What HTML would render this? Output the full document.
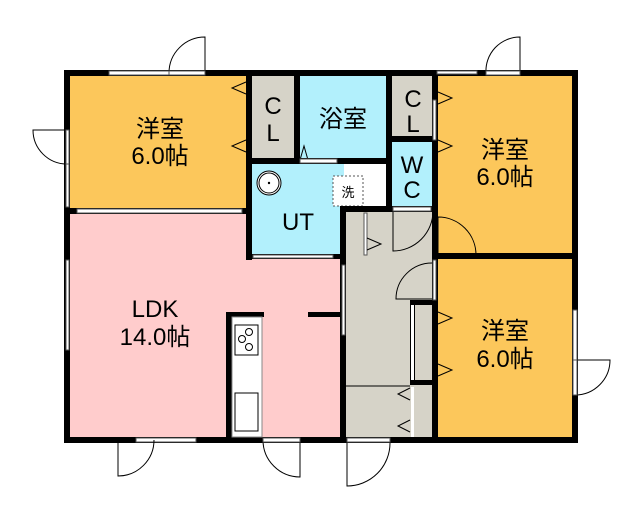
<!DOCTYPE html>
<html><head><meta charset="utf-8"><style>
html,body{margin:0;padding:0;background:#fff;}
svg{display:block;}
text{font-family:"Liberation Sans","Noto Sans CJK JP",sans-serif;fill:#000;}
</style></head><body>
<svg width="640" height="512" viewBox="0 0 640 512">
<rect x="67" y="73" width="183" height="140" fill="#FCC75B"/>
<rect x="67" y="211" width="280" height="228" fill="#FFCCCC"/>
<rect x="250" y="73" width="48" height="90" fill="#D6D3C8"/>
<rect x="298" y="73" width="92" height="90" fill="#B2F0FC"/>
<rect x="390" y="73" width="46" height="68" fill="#D6D3C8"/>
<rect x="390" y="141" width="46" height="69" fill="#B2F0FC"/>
<rect x="250" y="163" width="94" height="96" fill="#B2F0FC"/>
<rect x="366" y="163" width="24" height="45" fill="#fff"/>
<rect x="333" y="176" width="30" height="30" fill="#fff" stroke="#555" stroke-dasharray="2,2"/>
<text x="348" y="197" font-size="13" text-anchor="middle">洗</text>
<rect x="344" y="208" width="92" height="231" fill="#D6D3C8"/>
<rect x="436" y="73" width="139" height="185" fill="#FCC75B"/>
<rect x="436" y="258" width="139" height="181" fill="#FCC75B"/>
<g fill="#000">
<rect x="64" y="70" width="514" height="6"/>
<rect x="64" y="70" width="6" height="373"/>
<rect x="572" y="70" width="6" height="373"/>
<rect x="64" y="437" width="514" height="6"/>
<rect x="246" y="70" width="6" height="190"/>
<rect x="64" y="208" width="188" height="6"/>
<rect x="294" y="70" width="6" height="92"/>
<rect x="386" y="70" width="6" height="140"/>
<rect x="246" y="158" width="146" height="6"/>
<rect x="386" y="136" width="50" height="6"/>
<rect x="432" y="70" width="6" height="373"/>
<rect x="340" y="206" width="98" height="6"/>
<rect x="340" y="206" width="6" height="237"/>
<rect x="246" y="254" width="100" height="5"/>
<rect x="432" y="253" width="146" height="6"/>
<rect x="410" y="300" width="28" height="5"/>
<rect x="410" y="300" width="5" height="85"/>
<rect x="410" y="380" width="28" height="5"/>
<rect x="226" y="312" width="38" height="5"/>
<rect x="226" y="312" width="6" height="128"/>
<rect x="308" y="312" width="34" height="5"/>
</g>
<g fill="#fff" stroke="#555" stroke-width="1">
<rect x="109" y="71" width="60" height="4"/>
<rect x="66" y="157" width="3" height="50"/>
<rect x="77" y="209" width="165" height="4"/>
<rect x="66" y="260" width="3" height="90"/>
<rect x="136" y="438" width="60" height="4"/>
<rect x="253" y="255" width="80" height="3"/>
<rect x="342" y="265" width="3" height="70"/>
<rect x="364" y="213" width="3" height="42"/>
<rect x="433" y="100" width="3" height="40"/>
<rect x="433" y="260" width="3" height="40"/>
<rect x="573" y="310" width="4" height="50"/>
<rect x="437" y="71" width="40" height="3"/>
</g>
<rect x="232" y="317" width="30" height="120" fill="#fff" stroke="#888"/>
<rect x="235" y="325" width="23" height="30" fill="#fff" stroke="#000"/>
<circle cx="249" cy="332" r="3.5" fill="none" stroke="#000"/>
<circle cx="242" cy="339" r="3.5" fill="none" stroke="#000"/>
<circle cx="249" cy="347" r="3.5" fill="none" stroke="#000"/>
<rect x="235" y="393" width="23" height="38" fill="#fff" stroke="#000"/>
<circle cx="269" cy="183" r="12" fill="#fff" stroke="#000"/>
<circle cx="269" cy="183" r="10" fill="none" stroke="#000"/>
<circle cx="269" cy="183" r="1.2" fill="#000"/>
<g fill="none" stroke="#000" stroke-width="1">
<path d="M205 73 V37 A36 36 0 0 0 169 73"/>
<path d="M67 130 H33 A34 34 0 0 0 67 164"/>
<path d="M520 73 V37 A34 34 0 0 0 486 73"/>
<path d="M575 360 H610 A35 35 0 0 1 575 395"/>
<path d="M300 440 V477 A37 37 0 0 1 263 440"/>
<path d="M347 440 V486 A43 43 0 0 0 390 443"/>
<path d="M118 440 V476 A36 36 0 0 0 154 440"/>
<path d="M438 255 V217 A38 38 0 0 1 476 255"/>
<path d="M393 211 V251 A40 40 0 0 0 433 211"/>
<path d="M432 299 H396 A36 36 0 0 1 432 263"/>
<path d="M300 160 L304 146 L308 160"/>
<path d="M346 386 H410"/>
</g>
<g fill="#fff" stroke="#555">
<rect x="169" y="71" width="36" height="4"/>
<rect x="486" y="71" width="34" height="4"/>
<rect x="573" y="360" width="4" height="35"/>
<rect x="263" y="438" width="37" height="4"/>
<rect x="347" y="438" width="43" height="4"/>
<rect x="300" y="159" width="37" height="4"/>
<rect x="393" y="207" width="38" height="4"/>
<rect x="66" y="130" width="3" height="34"/>
</g>
<rect x="411" y="305" width="3" height="75" fill="#fff"/>
<rect x="411" y="387" width="3" height="50" fill="#fff"/>
<g fill="none" stroke="#000" stroke-width="1">
<path d="M246 82 L232 88 L246 94 M246 140 L232 146 L246 152"/>
<path d="M438 92 L452 98 L438 104 M438 140 L452 146 L438 152"/>
<path d="M438 312 L452 318 L438 324 M438 364 L452 370 L438 376"/>
<path d="M410 388 L398 394 L410 400 M410 420 L398 426 L410 432"/>
<path d="M367 238 L381 244 L367 250"/>
</g>
<g font-size="24" text-anchor="middle">
<text x="160" y="137">洋室</text><text x="160" y="164">6.0帖</text>
<text x="505" y="158">洋室</text><text x="505" y="185">6.0帖</text>
<text x="505" y="339">洋室</text><text x="505" y="367">6.0帖</text>
<text x="155" y="317">LDK</text><text x="155" y="345">14.0帖</text>
<text x="343" y="127">浴室</text>
<text x="298" y="230">UT</text>
<text x="273" y="114">C</text><text x="273" y="141">L</text>
<text x="413" y="107">C</text><text x="413" y="132">L</text>
<text x="412" y="173">W</text><text x="412" y="198">C</text>
</g>
</svg>
</body></html>
